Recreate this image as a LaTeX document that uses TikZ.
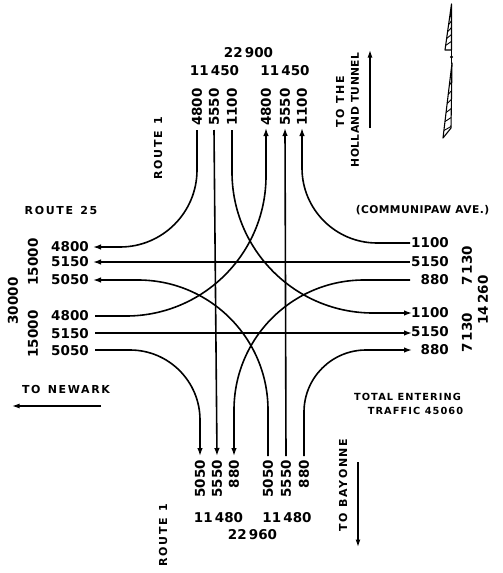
\documentclass[tikz,border=0pt]{standalone}
\usepackage{fontspec}
\setmainfont{DejaVu Sans}
\usetikzlibrary{arrows.meta}
\begin{document}
\begin{tikzpicture}[x=1pt,y=-1pt]
\tikzset{
  flow/.style={line width=1.6pt},
  flowout/.style={flow,-{Latex[length=8pt,width=5.6pt]}},
  num/.style={font=\fontsize{13.5}{14}\selectfont\bfseries, inner sep=0pt},
  vnum/.style={num, rotate=90},
  caption/.style={font=\fontsize{11}{12}\selectfont\bfseries\addfontfeatures{LetterSpace=15}, inner sep=0pt},
  tightcap/.style={font=\fontsize{10.7}{12}\selectfont\bfseries\addfontfeatures{LetterSpace=4}, inner sep=0pt},
  smallcap/.style={font=\fontsize{9.8}{11}\selectfont\bfseries\addfontfeatures{LetterSpace=11}, inner sep=0pt},
  pointer/.style={line width=1.3pt,-{Latex[length=7.5pt,width=5pt]}},
}
\useasboundingbox[fill=white] (0,0) rectangle (503,573);

% ---- volume labels, north leg
\node[num] (nTot) at (248.5,53) {22\,900};
\node[num] (nInSum) at (214.5,71) {11\,450};
\node[num] (nOutSum) at (285,71) {11\,450};
\node[vnum,anchor=west] (nInA) at (197,126) {4800};
\node[vnum,anchor=west] (nInB) at (214,126) {5550};
\node[vnum,anchor=west] (nInC) at (232,126) {1100};
\node[vnum,anchor=west] (nOutA) at (266,126) {4800};
\node[vnum,anchor=west] (nOutB) at (285,126) {5550};
\node[vnum,anchor=west] (nOutC) at (302,126) {1100};

% ---- volume labels, south leg
\node[vnum,anchor=east] (sOutA) at (200,460) {5050};
\node[vnum,anchor=east] (sOutB) at (217,460) {5550};
\node[vnum,anchor=east] (sOutC) at (234,460) {880};
\node[vnum,anchor=east] (sInA) at (268,460) {5050};
\node[vnum,anchor=east] (sInB) at (286,460) {5550};
\node[vnum,anchor=east] (sInC) at (304,460) {880};
\node[num] (sOutSum) at (218.5,518) {11\,480};
\node[num] (sInSum) at (287,518) {11\,480};
\node[num] (sTot) at (252.5,535) {22\,960};

% ---- volume labels, west leg
\node[num,anchor=east] (wOutA) at (89,247) {4800};
\node[num,anchor=east] (wOutB) at (89,262) {5150};
\node[num,anchor=east] (wOutC) at (89,280) {5050};
\node[num,anchor=east] (wInA) at (89,316) {4800};
\node[num,anchor=east] (wInB) at (89,334) {5150};
\node[num,anchor=east] (wInC) at (89,351) {5050};
\node[vnum] (wOutSum) at (33,262) {15000};
\node[vnum] (wTot) at (13,301) {30000};
\node[vnum] (wInSum) at (33,334) {15000};

% ---- volume labels, east leg
\node[num,anchor=east] (eInA) at (449,243) {1100};
\node[num,anchor=east] (eInB) at (449,262) {5150};
\node[num,anchor=east] (eInC) at (449,280) {880};
\node[num,anchor=east] (eOutA) at (449,313) {1100};
\node[num,anchor=east] (eOutB) at (449,332) {5150};
\node[num,anchor=east] (eOutC) at (449,350) {880};
\node[vnum] (eInSum) at (467,266) {7\,130};
\node[vnum] (eTot) at (483,300) {14\,260};
\node[vnum] (eOutSum) at (467,333) {7\,130};

% ---- street names and directions
\node[caption] (route25) at (61,210) {ROUTE\, 25};
\node[tightcap] (communipaw) at (422.5,210) {(COMMUNIPAW AVE.)};
\node[caption,rotate=90] (routeN) at (158,148) {ROUTE\, 1};
\node[caption,rotate=90] (routeS) at (163,535) {ROUTE\, 1};
\node[caption,rotate=90] (toThe) at (340,102) {TO THE};
\node[tightcap,rotate=90] (holland) at (355,110) {HOLLAND TUNNEL};
\node[caption,rotate=90] (bayonne) at (343,485) {TO BAYONNE};
\node[caption] (newark) at (66,389) {TO\, NEWARK};
\node[smallcap] (totalA) at (407.5,397) {TOTAL ENTERING};
\node[smallcap] (totalB) at (415.5,411) {TRAFFIC 45060};

% ---- direction pointers
\coordinate (hollandTail) at (370,128);
\coordinate (hollandTip) at (370,50);
\draw[pointer] (hollandTail) -- (hollandTip);
\coordinate (bayonneTail) at (358,462);
\coordinate (bayonneTip) at (358,547);
\draw[pointer] (bayonneTail) -- (bayonneTip);
\coordinate (newarkTail) at (101,406);
\coordinate (newarkTip) at (12,406);
\draw[pointer] (newarkTail) -- (newarkTip);

% ---- ends of the traffic streams
\coordinate (pNinA) at (197,130);  \coordinate (pNinB) at (214,130);  \coordinate (pNinC) at (232,130);
\coordinate (pNoutA) at (266,128); \coordinate (pNoutB) at (285,128); \coordinate (pNoutC) at (302,128);
\coordinate (pSoutA) at (200,456); \coordinate (pSoutB) at (217,456); \coordinate (pSoutC) at (234,456);
\coordinate (pSinA) at (268,456);  \coordinate (pSinB) at (286,456);  \coordinate (pSinC) at (304,456);
\coordinate (pWoutA) at (93,247);  \coordinate (pWoutB) at (93,262);  \coordinate (pWoutC) at (93,280);
\coordinate (pWinA) at (95,316);   \coordinate (pWinB) at (95,333);   \coordinate (pWinC) at (95,350);
\coordinate (pEinA) at (410,243);  \coordinate (pEinB) at (410,262);  \coordinate (pEinC) at (410,280);
\coordinate (pEoutA) at (412,313); \coordinate (pEoutB) at (412,333); \coordinate (pEoutC) at (412,350);

% ---- through movements
\draw[flowout] (pNinB) -- (pSoutB);
\draw[flowout] (pSinB) -- (pNoutB);
\draw[flowout] (pEinB) -- (pWoutB);
\draw[flowout] (pWinB) -- (pEoutB);

% ---- right turns
\draw[flowout] (pNinA) -- (197,170) arc[start angle=0,end angle=90,radius=77] -- (pWoutA);
\draw[flowout] (pEinA) -- (377,243) arc[start angle=90,end angle=180,radius=75] -- (pNoutC);
\draw[flowout] (pWinC) -- (130,350) arc[start angle=-90,end angle=0,radius=70] -- (pSoutA);
\draw[flowout] (pSinC) -- (304,412) arc[start angle=180,end angle=270,radius=62] -- (pEoutC);

% ---- left turns
\draw[flowout] (pNinC) -- (232,172) arc[start angle=180,end angle=90,radius=141] -- (pEoutA);
\draw[flowout] (pWinA) -- (126,316) arc[start angle=90,end angle=0,radius=140] -- (pNoutA);
\draw[flowout] (pEinC) -- (364,280) arc[start angle=270,end angle=180,radius=130] -- (pSoutC);
\draw[flowout] (pSinA) -- (268,410) arc[start angle=0,end angle=-90,radius=130] -- (pWoutC);

% ---- north arrow
\begin{scope}[line width=1.1pt, line join=round]
  \draw (451.5,4) -- (451.5,50) -- (445,50) -- cycle;
  \foreach \xa/\ya/\yb in {449.55/17.8/13.8, 448.6/24.7/20.7, 447.6/31.6/27.6, 446.6/38.5/34.5, 445.65/45.4/41.4}
    \draw[line width=0.9pt] (\xa,\ya) -- (451.5,\yb);
  \draw (451.5,50) -- (451.5,64);
  \fill (451.5,57) circle[radius=1.7];
  \draw (452,63) -- (451,128) -- (443,138) -- cycle;
  \foreach \xa/\ya/\xb/\yb in {449.3/85.5/451.7/81.5, 448.2/94.5/451.6/90.5, 447.1/103.5/451.4/99.5, 446.1/112.5/451.3/108.5, 445/121.5/451.2/117.5, 443.9/130.5/451.05/126.5}
    \draw[line width=0.9pt] (\xa,\ya) -- (\xb,\yb);
\end{scope}
\end{tikzpicture}
\end{document}
